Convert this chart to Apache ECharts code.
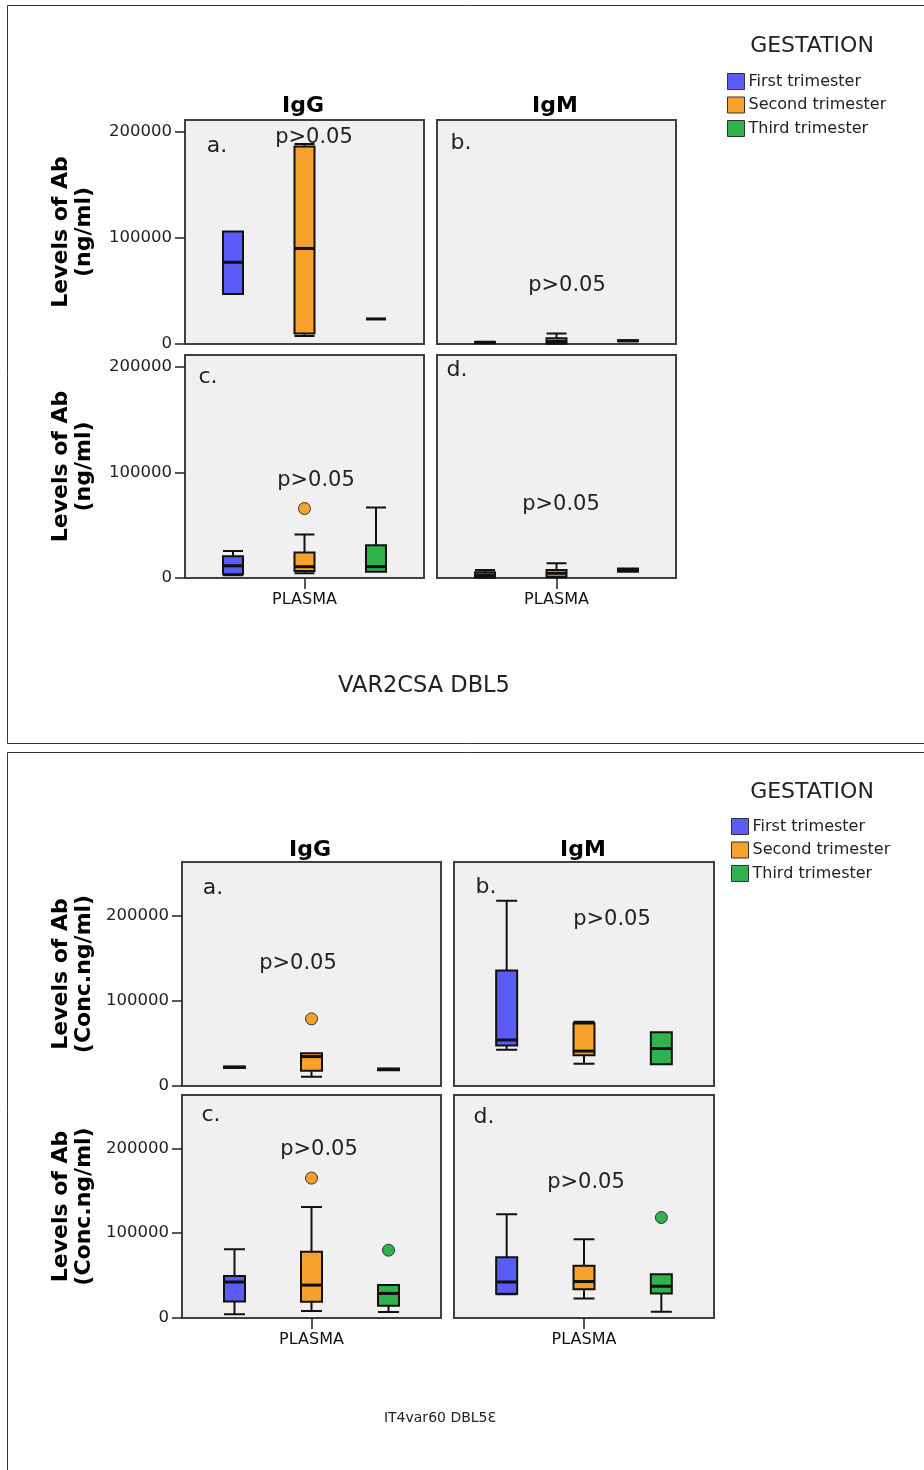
<!DOCTYPE html>
<html>
<head>
<meta charset="utf-8">
<script src="https://cdn.jsdelivr.net/npm/echarts@6/dist/echarts.min.js"></script>
<style>
html,body{margin:0;padding:0;background:#fff;}
#c{width:924px;height:1470px;}
</style>
</head>
<body>
<div id="c"></div>
<script>
// ---------------- DATA ----------------
const trimesters = ['First trimester', 'Second trimester', 'Third trimester'];
const plasmaCategory = ['PLASMA'];
const yTickValues = [0, 100000, 200000];
const topYMax = 211000;
const bottomYMax = 263000;

// VAR2CSA DBL5 : [min, Q1, median, Q3, max] per trimester
const var2csaIgGUpper = [[47000, 47000, 77000, 106000, 106000], [7500, 10000, 90000, 186000, 188500], [23600, 23600, 23600, 23600, 23600]];
const var2csaIgMUpper = [[800, 1000, 1500, 2000, 2200], [300, 700, 2500, 5500, 10000], [2500, 2500, 3000, 3500, 3500]];
const var2csaIgGLower = [[2500, 3500, 11500, 20500, 25500], [4400, 6600, 10700, 24200, 41200], [6000, 6000, 10700, 31000, 66700]];
const var2csaIgMLower = [[300, 800, 2500, 5500, 7500], [600, 1200, 4500, 7500, 13900], [6000, 6000, 7500, 9000, 9000]];
// outliers: [trimester index, value]
const var2csaIgGUpperOut = [];
const var2csaIgMUpperOut = [];
const var2csaIgGLowerOut = [[1, 65700]];
const var2csaIgMLowerOut = [];

// IT4var60 DBL5e : [min, Q1, median, Q3, max] per trimester
const it4IgGUpper = [[21000, 21000, 22000, 23000, 23000], [11000, 18000, 34500, 38500, 38500], [18500, 18500, 19500, 20500, 20500]];
const it4IgMUpper = [[42500, 47500, 54000, 135500, 217500], [26000, 36000, 41000, 73500, 75500], [25500, 25500, 44000, 63000, 63000]];
const it4IgGLower = [[4300, 19500, 42500, 49500, 81000], [8200, 19200, 38800, 78000, 131000], [7000, 14500, 29000, 39000, 39000]];
const it4IgMLower = [[28000, 28500, 42500, 71500, 122500], [23000, 34000, 43000, 61500, 93000], [7500, 29000, 37500, 51500, 51500]];
const it4IgGUpperOut = [[1, 78800]];
const it4IgMUpperOut = [];
const it4IgGLowerOut = [[1, 165000], [2, 80000]];
const it4IgMLowerOut = [[2, 118500]];

// ---------------- STYLE / LAYOUT ----------------
const colors = ['#5b5cf6', '#f7a12d', '#30b24c'];
const FONT = '"DejaVu Sans", sans-serif';
const panels = [
  {box: var2csaIgGUpper, out: var2csaIgGUpperOut, rect: [185, 120, 239, 224], inner: 214.5, max: topYMax, yName: 'Levels of Ab\n(ng/ml)', left: true, bottom: false, bw: 20, gap: 89},
  {box: var2csaIgMUpper, out: var2csaIgMUpperOut, rect: [437, 120, 239, 224], inner: 214.5, max: topYMax, left: false, bottom: false, bw: 20},
  {box: var2csaIgGLower, out: var2csaIgGLowerOut, rect: [185, 355, 239, 223], inner: 214.5, max: topYMax, yName: 'Levels of Ab\n(ng/ml)', left: true, bottom: true, bw: 20, gap: 89},
  {box: var2csaIgMLower, out: var2csaIgMLowerOut, rect: [437, 355, 239, 223], inner: 214.5, max: topYMax, left: false, bottom: true, bw: 20},
  {box: it4IgGUpper, out: it4IgGUpperOut, rect: [182, 862, 259, 224], inner: 231, max: bottomYMax, yName: 'Levels of Ab\n(Conc.ng/ml)', left: true, bottom: false, bw: 21, gap: 86},
  {box: it4IgMUpper, out: it4IgMUpperOut, rect: [454, 862, 260, 224], inner: 232, max: bottomYMax, left: false, bottom: false, bw: 21},
  {box: it4IgGLower, out: it4IgGLowerOut, rect: [182, 1095, 259, 223], inner: 231, max: bottomYMax, yName: 'Levels of Ab\n(Conc.ng/ml)', left: true, bottom: true, bw: 21, gap: 86},
  {box: it4IgMLower, out: it4IgMLowerOut, rect: [454, 1095, 260, 223], inner: 232, max: bottomYMax, left: false, bottom: true, bw: 21}
];

const texts = [
  {t: 'GESTATION', x: 812, y: 46, s: 22},
  {t: 'IgG', x: 303, y: 106, s: 22, b: true},
  {t: 'IgM', x: 555, y: 106, s: 22, b: true},
  {t: 'a.', x: 217, y: 146, s: 22},
  {t: 'b.', x: 461, y: 143, s: 22},
  {t: 'c.', x: 208, y: 377, s: 22},
  {t: 'd.', x: 457, y: 370, s: 22},
  {t: 'p>0.05', x: 314, y: 138, s: 21},
  {t: 'p>0.05', x: 567, y: 286, s: 21},
  {t: 'p>0.05', x: 316, y: 481, s: 21},
  {t: 'p>0.05', x: 561, y: 505, s: 21},
  {t: 'VAR2CSA DBL5', x: 424, y: 686, s: 22.5},
  {t: 'GESTATION', x: 812, y: 792, s: 22},
  {t: 'IgG', x: 310, y: 850, s: 22, b: true},
  {t: 'IgM', x: 583, y: 850, s: 22, b: true},
  {t: 'a.', x: 213, y: 888, s: 22},
  {t: 'b.', x: 486, y: 887, s: 22},
  {t: 'c.', x: 211, y: 1115, s: 22},
  {t: 'd.', x: 484, y: 1117, s: 22},
  {t: 'p>0.05', x: 298, y: 964, s: 21},
  {t: 'p>0.05', x: 612, y: 920, s: 21},
  {t: 'p>0.05', x: 319, y: 1150, s: 21},
  {t: 'p>0.05', x: 586, y: 1183, s: 21},
  {t: 'IT4var60 DBL5\u0190', x: 440, y: 1418, s: 14}
];

// ---------------- BUILD ----------------
const grid = [], xAxis = [], yAxis = [], series = [];
panels.forEach((p, i) => {
  const [l, t, w, h] = p.rect;
  const go = 2 * i, gi = 2 * i + 1;
  grid.push({left: l, top: t, width: w, height: h, show: true, backgroundColor: '#f0f0f0', borderColor: '#404040', borderWidth: 2, outerBoundsMode: 'none'});
  grid.push({left: l + (w - p.inner) / 2, top: t, width: p.inner, height: h, outerBoundsMode: 'none'});
  xAxis.push({
    gridIndex: go, type: 'category', data: plasmaCategory,
    axisLine: {show: false},
    axisTick: {show: p.bottom, alignWithLabel: true, length: 11, lineStyle: {color: '#222', width: 1.5}},
    axisLabel: {show: p.bottom, margin: 14, color: '#111', fontSize: 16, fontFamily: FONT},
    splitLine: {show: false}
  });
  yAxis.push({
    gridIndex: go, type: 'value', min: 0, max: p.max, interval: 100000,
    name: p.left ? p.yName : '', nameLocation: 'middle', nameRotate: 90, nameGap: p.gap || 0,
    nameTextStyle: {fontFamily: FONT, fontWeight: 'bold', fontSize: 22, lineHeight: 23, color: '#000'},
    axisLine: {show: false},
    axisTick: {show: p.left, length: 10, customValues: yTickValues, lineStyle: {color: '#222', width: 1.5}},
    axisLabel: {show: p.left, customValues: yTickValues, margin: 13, color: '#222', fontSize: 16.5, fontFamily: FONT, formatter: v => String(v)},
    splitLine: {show: false}
  });
  xAxis.push({gridIndex: gi, type: 'category', data: trimesters, show: false});
  yAxis.push({gridIndex: gi, type: 'value', min: 0, max: p.max, show: false, splitLine: {show: false}});
  series.push({
    type: 'boxplot', xAxisIndex: gi, yAxisIndex: gi, boxWidth: [p.bw, p.bw], silent: true,
    itemStyle: {borderColor: '#111', borderWidth: 2},
    data: p.box.map((v, k) => ({value: v, itemStyle: {color: colors[k]}}))
  });
  trimesters.forEach((name, k) => {
    series.push({
      type: 'scatter', name: name, xAxisIndex: gi, yAxisIndex: gi, symbol: 'rect', symbolSize: [p.bw, 3], silent: true, z: 5,
      itemStyle: {color: '#111', opacity: 1}, data: [[k, p.box[k][2]]]
    });
    const o = p.out.filter(d => d[0] === k);
    if (o.length) {
      series.push({
        type: 'scatter', name: name, xAxisIndex: gi, yAxisIndex: gi, symbol: 'circle', symbolSize: 12, silent: true, z: 6,
        itemStyle: {color: colors[k], borderColor: '#333', borderWidth: 1, opacity: 1}, data: o
      });
    }
  });
});

const legendData = trimesters.map((n, k) => ({name: n, itemStyle: {color: colors[k], borderColor: '#333', borderWidth: 1, opacity: 1}}));
const legendBase = {
  orient: 'vertical', icon: 'rect', itemWidth: 17, itemHeight: 16, itemGap: 6.5, padding: 0,
  selectedMode: false, data: legendData,
  textStyle: {fontFamily: FONT, fontSize: 16, color: '#222', padding: [0, 0, 0, -1]}
};

const graphic = [
  {type: 'rect', shape: {x: 7.5, y: 5.5, width: 930, height: 738}, style: {fill: 'none', stroke: '#333', lineWidth: 1}, silent: true},
  {type: 'rect', shape: {x: 7.5, y: 752.5, width: 930, height: 740}, style: {fill: 'none', stroke: '#333', lineWidth: 1}, silent: true}
].concat(texts.map(o => ({
  type: 'text', x: o.x, y: o.y, silent: true, z: 10,
  style: {text: o.t, fill: o.b ? '#000' : '#222', font: (o.b ? 'bold ' : '') + o.s + 'px ' + FONT, align: 'center', verticalAlign: 'middle'}
})));

const chart = echarts.init(document.getElementById('c'), null, {renderer: 'canvas'});
chart.setOption({
  animation: false,
  backgroundColor: '#fff',
  grid: grid, xAxis: xAxis, yAxis: yAxis, series: series,
  legend: [
    Object.assign({}, legendBase, {left: 727, top: 73}),
    Object.assign({}, legendBase, {left: 731, top: 818})
  ],
  graphic: graphic
});
</script>
</body>
</html>
